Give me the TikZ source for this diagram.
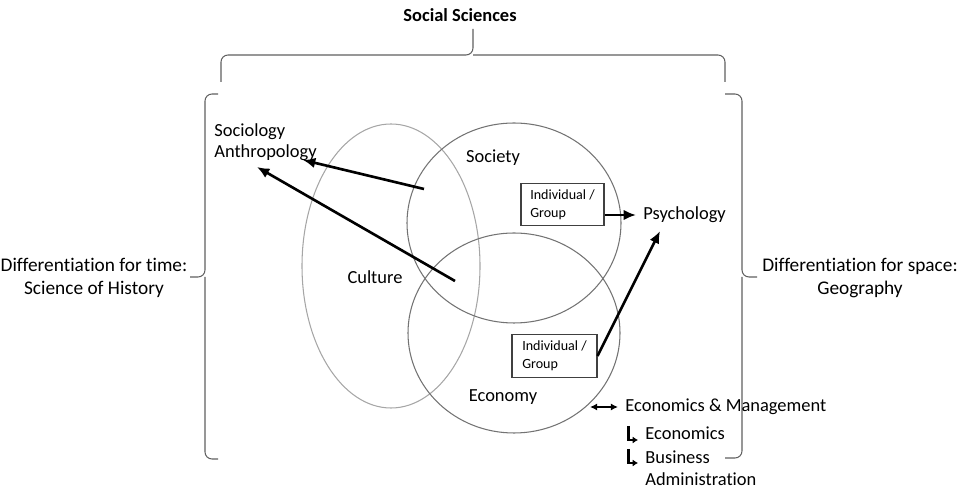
\documentclass[tikz,border=0pt]{standalone}
\usepackage{fontspec}
\setmainfont{Carlito}[Ligatures=NoCommon]
\usetikzlibrary{arrows.meta}

\begin{document}
\begin{tikzpicture}[x=0.02cm,y=-0.02cm,
  lbl/.style={font=\fontsize{10.5}{12.5}\selectfont},
  side/.style={font=\fontsize{11}{13}\selectfont,align=center},
  ibox/.style={draw=black!75,line width=0.6pt,align=left,font=\fontsize{8}{10}\selectfont,minimum height=0.85cm},
  ring/.style={draw=gray!90!black,line width=0.6pt},
  brc/.style={draw=gray!75!black,line width=0.6pt,rounded corners=4pt},
  link/.style={-{Latex[length=7pt,width=6pt]},line width=1.5pt},
  pair/.style={{Latex[length=4pt,width=4pt]}-{Latex[length=4pt,width=4pt]},line width=1.1pt},
  elbow/.style={-{Latex[length=3pt,width=4pt]},line width=1.7pt}]
\useasboundingbox (0,0) rectangle (960,492);

% braces
\draw[brc] (473,29) -- (473,55) -- (221,55) -- (221,82);
\draw[brc] (473,55) -- (725,55) -- (725,82);
\draw[brc] (218,94) -- (205,94) -- (205,277) -- (190,277);
\draw[brc] (205,277) -- (205,459) -- (218,459);
\draw[brc] (725,94) -- (742,94) -- (742,277) -- (757,277);
\draw[brc] (742,277) -- (742,458) -- (725,458);

\node[font=\bfseries\fontsize{10.5}{12}\selectfont] (socsci) at (460,15) {Social Sciences};
\node[side] (hist) at (94,278) {Differentiation for time:\\Science of History};
\node[side] (geo) at (860,278) {Differentiation for space:\\Geography};

% the three spheres
\draw[ring,draw=gray!70] (391,266) ellipse [x radius=89, y radius=142];
\draw[ring] (514,223) ellipse [x radius=107, y radius=100];
\draw[ring] (514,333) ellipse [x radius=106, y radius=100];

\node[lbl] (culture) at (375,277) {Culture};
\node[lbl] (society) at (493,158) {Society};
\node[lbl] (economy) at (503,397) {Economy};

\node[ibox,minimum width=1.66cm] (box1) at (562.5,204.5) {Individual /\\Group};
\node[ibox,minimum width=1.7cm] (box2) at (554.5,356) {Individual /\\Group};

\node[lbl,anchor=west,inner sep=0pt] (sociol) at (214,132) {Sociology};
\node[lbl,anchor=west,inner sep=0pt] (anthro) at (214,153) {Anthropology};
\node[lbl,anchor=west,inner sep=0pt] (psych) at (643,215) {Psychology};
\node[lbl,anchor=west,inner sep=0pt] (econmgmt) at (625,407) {Economics \& Management};
\node[lbl,anchor=west,inner sep=0pt] (econ) at (645,433) {Economics};
\node[lbl,anchor=west,inner sep=0pt,align=left] (busadm) at (645,468) {Business\\Administration};

% arrows
\coordinate (socpt) at (424,189);
\coordinate (cultpt) at (455,281);
\coordinate (anthtip) at (303,160);
\coordinate (anthlow) at (257,167);
\coordinate (psytip) at (660,231);
\coordinate (econedge) at (590,407);

\draw[link] (socpt) -- (anthtip);
\draw[link] (cultpt) -- (anthlow);
\draw[link,shorten >=4pt] (box1.east |- psych.west) -- (psych.west);
\draw[link] (box2.east) -- (psytip);
\draw[pair,shorten >=4pt] (econedge) -- (econmgmt.west);

\draw[elbow] (628,426) -- (628,440) -- (638,440);
\draw[elbow] (628,449) -- (628,463) -- (638,463);
\end{tikzpicture}
\end{document}
